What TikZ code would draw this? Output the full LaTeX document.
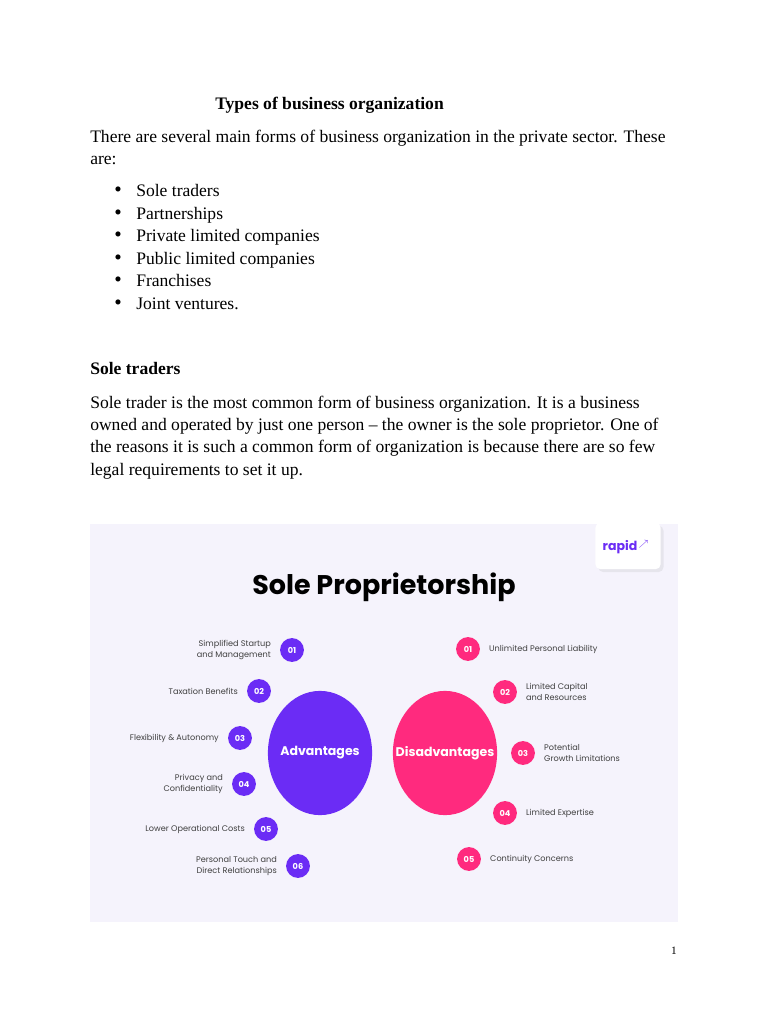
\documentclass[tikz,border=0pt]{standalone}
\usepackage{fontspec}
\setmainfont{Liberation Serif}
\newfontfamily\popfont{Poppins}
\usetikzlibrary{shadows,shapes.geometric}
\definecolor{advpurple}{HTML}{6B2CF5}
\definecolor{dispink}{HTML}{FF2A7E}
\definecolor{panelbg}{HTML}{F5F3FC}
\begin{document}
\begin{tikzpicture}[x=0.797pt, y=-0.797pt,
    % Styles du texte de la page
    body/.style={anchor=base west, inner sep=0pt, font=\fontsize{14}{16}\selectfont},
    bullet/.style={anchor=base, inner sep=0pt, font=\fontsize{17}{16}\selectfont},
    % Styles de l'infographie
    bigcircle/.style={ellipse, minimum width=83pt, minimum height=99pt, inner xsep=-14pt, inner ysep=0pt,
                      text=white, font=\popfont\fontsize{10}{12}\selectfont\bfseries},
    advbadge/.style={circle, fill=advpurple, minimum size=19pt, inner sep=0pt,
                     text=white, font=\popfont\fontsize{6.5}{8}\selectfont\bfseries},
    disbadge/.style={advbadge, fill=dispink},
    advlabel/.style={anchor=east, align=right, inner sep=0pt, text=black!75,
                     font=\popfont\fontsize{6.5}{9}\selectfont},
    dislabel/.style={advlabel, anchor=west, align=left}
]
\useasboundingbox (0,0) rectangle (768,1024);

% ==========================================
% TEXTE DE LA PAGE
% ==========================================
\node[body, font=\fontsize{14}{16}\selectfont\bfseries] (title) at (215,109) {Types of business organization};
\node[body] (intro1) at (90,142) {There are several main forms of business organization in the private sector. These};
\node[body] (intro2) at (90,164) {are:};

\foreach \y/\txt/\nm in {196/Sole traders/b1, 219/Partnerships/b2, 241/Private limited companies/b3,
                         264/Public limited companies/b4, 286/Franchises/b5, 309/Joint ventures./b6} {
    \node[bullet] (dot\nm) at (118,\y) {\textbullet};
    \node[body] (\nm) at (136,\y) {\txt};
}

\node[body, font=\fontsize{14}{16}\selectfont\bfseries] (soletitle) at (90,374) {Sole traders};
\node[body] (p1) at (90,408) {Sole trader is the most common form of business organization. It is a business};
\node[body] (p2) at (90,430) {owned and operated by just one person -- the owner is the sole proprietor. One of};
\node[body] (p3) at (90,452) {the reasons it is such a common form of organization is because there are so few};
\node[body] (p4) at (90,475) {legal requirements to set it up.};

% ==========================================
% INFOGRAPHIE
% ==========================================
\fill[panelbg] (90,524) rectangle (678,922);
\node[fill=white, rounded corners=4, minimum width=52pt, minimum height=37pt, drop shadow={opacity=0.12}]
    (logo) at (628,546) {};
\node[text=advpurple, font=\popfont\fontsize{10}{12}\selectfont\bfseries] (rapid) at (626,547)
    {rapid\textsuperscript{\,\(\nearrow\)}};
\node[font=\popfont\fontsize{21.5}{24}\selectfont\bfseries] (sptitle) at (384,587) {Sole Proprietorship};

\node[bigcircle, fill=advpurple] (adv) at (320,753) {Advantages};
\node[bigcircle, fill=dispink] (dis) at (445,753) {Disadvantages};

% Avantages
\foreach \n/\x/\y/\txt in {01/292/650/{Simplified Startup\\and Management},
                           02/259/691/{Taxation Benefits},
                           03/240/738/{Flexibility \& Autonomy},
                           04/244/784/{Privacy and\\Confidentiality},
                           05/266/829/{Lower Operational Costs},
                           06/298/866/{Personal Touch and\\Direct Relationships}} {
    \node[advbadge] (a\n) at (\x,\y) {\n};
    \node[advlabel] (al\n) at ([xshift=-7]a\n.west) {\txt};
}

% Inconvenients
\foreach \n/\x/\y/\txt in {01/468/649/{Unlimited Personal Liability},
                           02/505/692/{Limited Capital\\and Resources},
                           03/523/753/{Potential\\Growth Limitations},
                           04/505/813/{Limited Expertise},
                           05/469/859/{Continuity Concerns}} {
    \node[disbadge] (d\n) at (\x,\y) {\n};
    \node[dislabel] (dl\n) at ([xshift=7]d\n.east) {\txt};
}

% Numero de page
\node[font=\fontsize{9}{11}\selectfont] (pagenum) at (674,951) {1};
\end{tikzpicture}
\end{document}
